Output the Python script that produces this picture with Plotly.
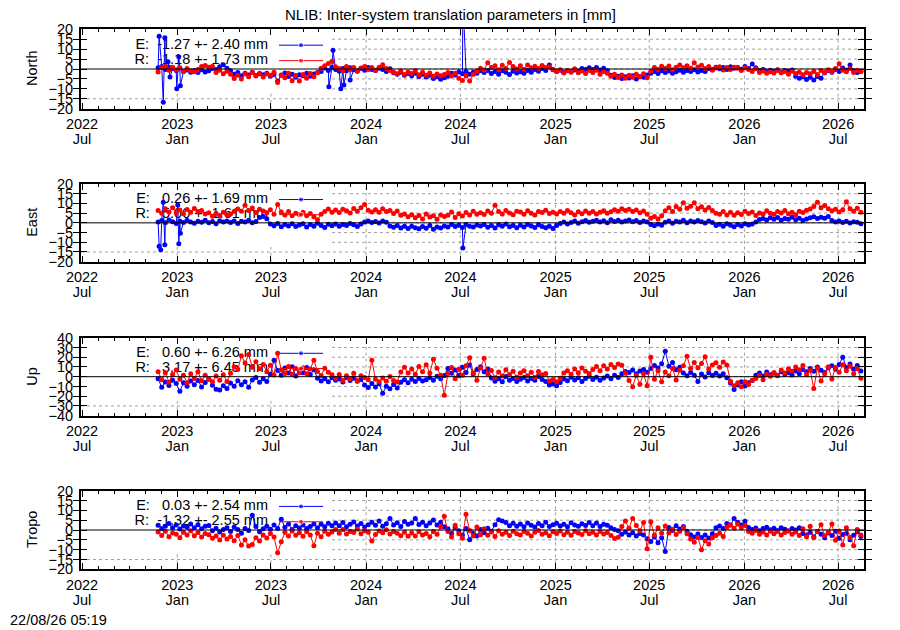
import pandas as pd
import plotly.graph_objects as go

# Weekly samples (mm), first sample 2022-11-25
first_day = "2022-11-25"
n_weeks = 195

north_e = [
    0.6, 1.2, -0.3, 0.9, 0.2, -0.8, 0.4, -1.3, -0.5, -1.6,
    -0.7, -1.8, -0.4, -1.5, -0.9, 0.3, -0.2, 1.1, 2.1, 0.4,
    -0.9, -2.6, -1.8, -3.4, -2.1, -3.0, -1.7, -3.3, -2.4, -2.9,
    -2.2, -3.6, -2.8, -6.0, -3.1, -2.0, -3.8, -2.6, -4.1, -2.9,
    -3.4, -2.1, -3.7, -2.5, -1.8, -1.2, 0.5, -0.7, 0.9, -0.3,
    -1.1, 0.2, -0.9, 0.6, -0.4, -1.0, 0.3, -0.6, 0.8, -0.2,
    -0.8, 0.4, -0.3, -1.2, 0.1, -1.9, -2.6, -1.7, -3.1, -2.3,
    -3.4, -2.2, -3.8, -2.7, -4.0, -3.1, -4.8, -3.9, -5.2, -4.4,
    -3.6, -2.1, -3.0, -1.5, -2.4, -1.2, -2.7, -1.6, -2.2, -0.9,
    -1.8, -0.7, -2.3, -1.2, -2.6, -0.9, -1.7, -2.8, -1.1, -2.0,
    -1.4, -2.2, -0.8, -1.6, -0.3, -1.1, 0.2, -0.7, 2.0, -0.4,
    -1.3, -0.6, -1.7, -0.9, -1.4, -0.5, -1.1, 0.2, -0.3, 0.6,
    -0.2, 0.8, -0.5, 0.4, -0.9, -3.2, -4.3, -3.6, -4.8, -3.9,
    -4.5, -3.4, -5.0, -3.8, -4.2, -3.0, -2.1, -1.3, -2.3, -0.9,
    -1.8, -1.0, -2.2, -1.4, -0.6, -1.7, -0.8, -1.3, -0.4, -1.5,
    -0.7, -1.2, 0.3, -0.2, 0.9, 0.1, 0.7, -0.3, 1.1, 0.4,
    0.8, -0.1, 1.2, 0.3, 2.5, 0.6, -0.9, -0.3, -1.4, -0.6,
    -1.2, -0.4, -1.6, -0.7, -1.3, -0.5, -3.6, -4.7, -3.9, -5.3,
    -4.2, -5.6, -3.8, -4.6, -1.9, -0.8, -1.6, -0.3, -1.2, 0.5,
    -0.6, 2.0, -0.9, -1.8, -1.1,
]
north_r = [
    -1.5, 0.8, 1.2, -0.6, 0.9, -0.4, 0.6, -1.2, 0.3, -0.9,
    -1.4, -0.3, 1.2, 1.8, 0.9, 1.4, -1.8, -0.6, -2.4, -1.1,
    -2.6, -4.8, -3.2, -5.1, -2.4, -3.9, -1.8, -3.5, -2.2, -4.0,
    -2.5, -3.1, -1.6, -6.8, -3.0, -4.4, -2.1, -5.9, -3.3, -6.0,
    -2.8, -4.6, -2.3, -3.9, -1.9, 0.4, 1.6, 2.8, 3.9, 1.1,
    0.3, -0.9, 1.2, -0.4, 0.8, -1.1, 0.5, 1.3, -0.2, 0.7,
    -0.6, 0.9, 2.1, 0.2, -0.8, -1.6, -2.4, -1.0, -2.8, -1.5,
    -2.3, -0.9, -2.9, -1.7, -3.2, -2.0, -3.6, -2.5, -3.4, -2.8,
    -1.8, -3.5, -2.2, -4.6, -5.8, -3.4, -6.1, -2.7, -1.0, 0.4,
    -0.5, 3.2, 0.8, 1.6, -0.4, 1.9, 0.3, 3.3, 1.2, 0.0,
    1.7, -0.2, 2.0, 0.6, 1.4, 0.2, 1.8, 0.7, 1.1, -0.3,
    -1.2, -0.4, -2.0, -0.8, -1.6, 0.1, -1.9, -1.0, -2.3, -0.7,
    -1.8, -0.6, -2.6, -1.3, -2.1, -3.7, -2.6, -4.3, -3.0, -4.6,
    -3.1, -4.1, -2.7, -3.9, -2.4, -4.4, -1.1, 0.8, -0.3, 1.4,
    0.2, 1.5, -0.4, 0.9, 2.0, 0.6, 1.7, 0.4, 3.2, 1.0,
    1.9, 0.3, 1.2, -0.6, 0.5, 1.1, -0.5, 0.7, -0.2, 0.9,
    0.4, -0.8, 0.6, -0.3, -1.2, 0.1, -1.8, -1.0, -2.2, -1.4,
    -2.0, -0.8, -1.9, -1.2, -2.6, -1.1, -2.3, -1.6, -2.9, -1.8,
    -2.4, -1.3, -2.8, -0.8, -1.9, -0.4, -1.5, 0.2, 2.6, -0.6,
    -1.4, 0.3, -1.8, -0.7, -1.2,
]
east_e = [
    0.4, 1.2, 0.1, 1.5, 0.6, -0.3, 0.9, 0.2, 1.3, 0.5,
    -0.2, 0.8, 0.3, 1.4, 0.0, 0.7, -0.4, 1.1, 0.5, 0.9,
    0.2, 1.0, -0.3, 0.8, 0.4, 1.3, 0.1, 0.7, 2.8, 3.3,
    2.1, -0.6, -1.5, -0.3, -2.0, -0.8, -1.6, -0.4, -1.9, -1.1,
    -0.5, -2.2, -0.9, -1.7, -0.2, -1.3, -2.4, -0.7, -1.5, -0.6,
    -1.8, -0.9, -1.4, -0.3, -1.0, -1.9, -0.6, 0.4, 0.9, 0.2,
    0.7, -0.1, 0.9, 0.3, -1.6, -2.3, -1.4, -2.6, -1.8, -2.9,
    -1.7, -2.5, -3.1, -1.9, -2.8, -1.4, -3.3, -2.2, -2.7, -1.6,
    -2.1, -0.8, -1.9, -1.2, -2.4, -0.9, -1.7, -2.2, -1.1, -1.6,
    -0.9, -2.3, -1.3, -2.6, -1.0, -1.8, -0.6, -2.0, -1.4, -2.5,
    -1.2, -2.1, -0.8, -1.6, -2.4, -1.0, -1.9, -2.5, -1.7, -2.9,
    -1.4, -0.3, 0.5, -0.6, 0.2, 0.9, -0.2, 0.6, 1.2, 0.3,
    0.8, 1.4, 0.4, 1.1, 0.0, 1.6, 0.7, 1.3, 0.5, 1.0,
    1.5, 0.6, 1.2, 0.2, 0.9, 0.4, -0.8, -1.5, -0.6, -1.2,
    0.3, 1.0, -0.2, 0.8, 0.4, 1.3, 0.1, 0.9, 0.5, 1.2,
    0.6, -0.1, 0.9, 0.2, -1.3, -0.7, -1.8, -0.5, -1.2, -2.0,
    -0.9, -1.6, -0.4, -1.1, -0.6, 0.4, 1.7, 2.3, 1.5, 2.6,
    1.9, 2.7, 1.4, 2.2, 1.8, 2.9, 1.6, 2.4, 1.2, 2.0,
    2.6, 3.1, 2.2, 2.9, 2.4, 3.3, 1.2, 0.4, 1.0, 0.2,
    0.8, -0.1, 0.6, 0.3, -0.4,
]
east_r = [
    6.3, 4.9, 7.2, 5.6, 7.8, 5.1, 6.6, 4.7, 6.9, 5.5,
    7.4, 5.8, 6.3, 4.6, 5.2, 3.4, 4.9, 3.8, 5.5, 4.1,
    4.6, 5.9, 7.1, 6.0, 9.0, 6.4, 7.6, 5.3, 7.0, 6.1,
    5.2, 6.8, 4.4, 9.4, 5.6, 4.1, 5.9, 3.7, 5.0, 4.3,
    5.4, 3.6, 4.8, 3.2, 1.6, 4.4, 5.8, 7.1, 5.5, 6.6,
    5.3, 7.0, 6.2, 5.1, 7.4, 6.0, 7.8, 9.4, 6.5, 5.6,
    6.8, 5.4, 7.2, 5.9, 6.4, 4.8, 6.1, 3.9, 4.6, 3.1,
    4.2, 2.6, 3.8, 2.0, 4.5, 3.0, 3.6, 1.9, 4.1, 3.3,
    3.9, 5.6, 2.8, 4.7, 3.5, 5.3, 4.1, 6.0, 4.4, 5.2,
    4.3, 6.1, 5.0, 9.0, 5.8, 4.6, 6.4, 5.1, 4.2, 6.0,
    5.6, 4.4, 6.2, 5.0, 4.1, 5.9, 5.3, 6.5, 4.8, 5.5,
    4.5, 5.8, 4.9, 6.3, 5.2, 4.0, 5.7, 4.7, 6.1, 5.0,
    5.9, 4.6, 5.4, 6.2, 4.9, 5.7, 6.8, 6.0, 7.3, 6.4,
    7.0, 5.9, 6.6, 5.2, 6.1, 4.4, 2.4, 3.3, 2.0, 3.6,
    6.2, 7.8, 5.9, 8.4, 7.0, 10.4, 7.5, 8.6, 10.3, 7.2,
    8.3, 6.6, 7.9, 6.3, 5.0, 4.4, 5.8, 4.1, 5.5, 3.9,
    5.2, 4.3, 6.0, 4.8, 5.6, 3.8, 5.1, 4.6, 6.2, 5.0,
    4.4, 5.9, 5.1, 6.3, 4.7, 5.5, 4.2, 6.0, 5.3, 6.5,
    7.1, 8.4, 10.6, 7.8, 8.9, 7.3, 6.2, 7.0, 5.6, 6.8,
    10.9, 7.2, 6.0, 7.5, 5.4,
]
up_e = [
    -2.0, -10.8, -5.4, -8.9, -3.6, -7.1, -15.0, -6.3, -9.8, -4.5,
    -8.2, -3.9, -10.5, -6.0, -2.4, -8.7, -12.9, -13.6, -9.4, -12.2,
    -6.5, -9.9, -4.2, -8.3, -5.1, -10.7, -3.4, -0.8, -5.6, -2.1,
    -4.8, 2.5, 17.0, 6.3, 1.4, 8.9, 3.7, 10.2, 0.6, 6.8,
    4.1, 9.5, 2.2, 7.0, -1.6, -4.3, -2.0, -5.2, -1.1, -3.7,
    -2.4, -5.5, -0.9, -3.8, -1.7, -4.6, -2.9, -8.4, -11.2, -6.9,
    -10.6, -7.3, -17.0, -9.8, -12.4, -8.1, -11.5, -5.6, -3.2, -6.1,
    -2.7, -5.0, -1.9, -4.4, -3.0, -0.8, -3.6, 0.5, -2.2, 1.3,
    8.5, 3.6, 6.9, 1.2, 9.7, 4.4, 12.1, 2.8, 7.5, 10.3,
    5.2, 8.0, -1.4, -4.6, -2.0, -5.1, 0.3, -3.7, -1.8, -4.9,
    -2.5, -0.7, -4.3, -1.9, -3.6, 0.2, -2.8, -5.0, -8.6, -7.4,
    -9.2, -6.0, -2.4, -4.1, -0.6, -3.3, -1.2, -5.0, -1.9, 0.4,
    -2.8, -0.5, -3.6, -1.4, 0.8, -2.2, 1.5, -0.9, 3.1, 5.4,
    4.2, 6.9, 3.0, 5.8, 7.4, 4.6, 8.5, 11.6, 9.0, 13.2,
    26.0, 10.8, 14.5, 7.2, 9.6, 3.8, 0.9, 4.4, 1.6, -5.0,
    2.7, -0.4, 4.1, 1.3, 3.5, 0.6, 2.9, -1.2, -6.5, -13.0,
    -8.4, -5.2, -9.6, -6.1, -3.8, 1.6, 3.9, 0.8, 4.7, 2.1,
    3.6, 0.9, 5.2, 2.4, 4.0, 1.7, 5.8, 3.1, 7.5, 5.0,
    8.3, 5.6, 9.9, 6.7, 4.2, 8.8, 11.3, 7.6, 12.5, 20.0,
    9.4, 13.1, 7.8, 11.6, 5.9,
]
up_r = [
    5.0, -3.2, 4.1, -5.6, 2.3, 6.8, -2.5, 1.4, -6.2, 3.0,
    -1.8, 5.2, -4.1, 1.6, -2.7, -5.3, 0.8, -3.6, 1.9, -4.8,
    3.5, 10.2, 7.4, 21.5, 14.0, 22.8, 9.6, 15.3, 8.1, 12.6,
    5.2, 11.8, 1.7, 24.0, 6.9, 3.4, 10.5, 2.6, 8.3, 4.0,
    9.2, 3.1, 7.8, 17.0, 5.4, 1.2, 8.7, 4.5, 2.0, -1.5,
    2.3, -3.8, 0.9, -2.4, 3.6, -4.2, 1.1, -0.7, -3.0, 16.8,
    -2.6, -5.1, -1.4, -4.6, 0.2, -3.9, -5.5, 4.8, 9.6, 3.7,
    7.9, 2.5, 10.4, 5.1, 12.2, 3.8, 18.0, 8.6, 1.4, -19.0,
    3.2, 9.4, -2.1, 7.6, 1.5, 11.2, 19.5, 4.0, -3.6, 8.8,
    19.0, 2.7, 6.4, -1.2, 4.9, 0.6, 7.1, 2.2, 5.5, -0.5,
    3.8, 6.0, 1.1, 4.6, -0.8, 5.3, 2.0, 3.4, -4.5, -2.8,
    -5.2, -1.6, 3.9, 6.2, 2.5, 7.8, 4.1, 8.9, 5.6, 3.3,
    7.5, 10.4, 6.2, 11.3, 8.0, 12.6, 9.4, 13.1, 11.8, 3.5,
    -4.0, -10.2, 1.5, -7.8, 3.1, -9.4, 20.0, -2.6, 6.2, -5.1,
    4.8, 0.9, 8.3, -3.4, 6.5, 11.2, 21.0, 8.4, 14.6, 9.1,
    13.5, 20.4, 7.8, 11.9, 14.3, 9.7, 15.2, 12.0, -4.6, -9.3,
    -6.1, -10.4, -5.2, -8.0, -3.6, -1.8, 1.2, -3.1, 2.6, 0.4,
    4.3, 1.5, 6.8, 3.9, 8.2, 5.6, 9.9, 7.1, 11.4, 2.0,
    6.4, -12.0, 8.8, -4.5, 3.0, 10.1, -2.3, 9.5, 4.6, 12.2,
    6.0, 10.8, 2.9, 8.4, -1.6,
]
tropo_e = [
    2.4, 0.8, 1.9, 3.3, 1.1, 2.6, 0.5, 2.0, 1.4, 3.0,
    1.2, 2.7, 0.6, 1.9, 2.3, -0.4, 0.9, -1.0, 0.3, 1.2,
    -0.8, 1.5, 0.2, -1.6, 0.7, -0.3, 7.5, 1.8, -0.9, 0.6,
    1.9, 0.4, 2.6, 0.8, 5.5, 1.4, 3.0, 0.2, 2.2, 1.0,
    2.5, 0.7, 1.8, 3.1, 1.2, 2.9, 1.6, 3.4, 2.1, 3.6,
    2.2, 3.8, 1.7, 2.9, 4.1, 2.0, 3.3, 1.5, 2.7, 3.9,
    2.4, 4.6, 1.9, 3.2, 5.8, 2.6, 3.7, 1.8, 4.3, 2.9,
    3.5, 5.9, 2.8, 4.0, 2.2, 3.6, 5.1, 2.5, 3.9, 1.7,
    0.6, -1.8, 1.1, -0.4, -2.5, 0.8, -4.9, -1.6, -3.1, 0.3,
    -1.4, 0.9, -0.6, 2.7, 5.2, 4.6, 3.8, 2.1, 3.4, 1.9,
    3.0, 1.7, 3.6, 2.4, 1.5, 3.3, 2.2, 3.9, 1.8, 2.7,
    3.4, 2.0, 2.9, 1.6, 3.7, 2.5, 1.9, 3.2, 2.3, 3.8,
    2.1, 3.5, 1.8, 2.9, 2.4, 1.2, 0.3, -0.4, -2.2, -1.0,
    -2.6, -1.4, -3.1, -1.8, -2.5, -4.4, -5.8, -3.6, -6.5, -4.0,
    -11.0, 1.3, -0.2, 2.2, 0.5, 1.8, -0.6, -2.4, -3.5, -2.0,
    -3.8, -2.6, -4.1, -1.9, 1.2, 2.0, 0.8, 3.3, 2.6, 5.8,
    3.9, 2.5, 4.4, 1.3, 0.2, 1.0, -0.4, 0.8, 1.4, 0.1,
    0.9, -0.3, 1.2, 0.4, -0.5, 0.7, 0.0, 1.1, -1.8, -2.6,
    -1.2, -3.4, -0.8, -2.1, -3.9, -1.5, -2.8, -0.6, -4.2, -2.3,
    -1.6, -4.9, -2.7, -0.9, -3.3,
]
tropo_r = [
    -1.0, -2.8, -0.6, -3.4, -1.5, -2.2, -3.9, -1.1, -2.6, -0.4,
    -2.9, -1.3, -3.5, -1.8, -2.4, -4.2, -3.0, -5.1, -2.7, -4.6,
    -3.3, -5.5, -2.8, -7.6, -5.0, -8.2, -7.4, -3.9, -5.6, -2.5,
    -4.1, -1.8, -3.6, -11.6, -6.0, -1.2, -3.0, -0.5, -2.7, -1.4,
    -3.2, -0.9, -2.5, -8.0, -1.7, -3.4, -0.6, -2.1, -1.0, 0.2,
    -1.6, 0.3, -2.0, -0.7, -1.3, 0.5, -1.9, -0.4, -1.2, -5.6,
    -2.3, -0.5, -1.4, 0.1, -2.0, -0.8, -1.6, -2.9, -1.1, -3.2,
    -1.5, -3.0, -0.9, -2.6, -1.8, -3.4, -0.7, -2.2, 1.6, 7.0,
    -0.8, -3.6, 2.4, -1.9, -4.2, 8.0, -0.3, -3.0, 1.5, -2.4,
    0.6, -2.7, -1.0, -3.3, -0.4, -2.1, -1.2, -2.8, -0.6, -1.9,
    -2.5, -0.8, -1.7, -3.0, -1.1, -0.2, -2.2, -1.4, -2.9, -0.9,
    -1.8, -0.5, -2.4, -1.2, -2.7, -0.8, -1.5, -2.3, -0.4, -1.9,
    -1.1, -2.6, -0.7, -2.0, -1.3, -2.8, -4.3, -3.7, 1.8, 4.6,
    0.9, 5.9, 2.3, -0.4, 3.8, -9.5, 4.2, -2.6, 1.1, -1.7,
    2.0, -1.5, 0.4, -2.3, -0.6, 1.3, -1.9, -4.6, -6.2, -3.8,
    -10.0, -5.5, -7.1, -3.9, -2.8, -1.6, -3.3, 1.4, 2.6, 0.9,
    2.9, 1.2, 2.3, -0.8, -1.6, -0.3, -2.2, -1.0, -2.5, -0.6,
    -1.9, -0.7, -2.6, -1.3, -0.4, -2.1, -1.0, -2.8, 0.6, -3.4,
    1.9, -4.0, -0.8, 2.7, -2.9, -1.2, 3.1, -5.2, -0.5, -7.6,
    1.2, -3.8, -8.0, 0.3, -2.6,
]

# isolated outliers of the E solution (daily points between the weekly samples)
north_e_out_dates = ["2022-11-27", "2022-12-05", "2022-12-08", "2022-12-14", "2022-12-18",
                     "2022-12-31", "2023-01-04", "2023-01-07", "2023-10-21", "2023-10-29",
                     "2023-11-13", "2023-11-19", "2023-12-01", "2024-07-06"]
north_e_out = [16.5, -16.8, 15.7, 3.7, -4.0, -10.0, 6.2, -8.5, -9.0, 9.5, -10.0, -8.0, -5.5, 35.0]
east_e_out_dates = ["2022-11-27", "2022-11-30", "2022-12-05", "2022-12-08",
                    "2023-01-02", "2023-01-04", "2023-01-07", "2024-07-06"]
east_e_out = [-12.0, -13.8, 10.6, -11.3, 9.2, -10.8, -5.3, -13.0]

panel_names = ["North", "East", "Up", "Tropo"]
panel_limits = [20, 20, 40, 20]
panel_steps = [5, 5, 10, 5]
e_labels = ["E:  -1.27 +- 2.40 mm", "E:   0.26 +- 1.69 mm",
            "E:   0.60 +- 6.26 mm", "E:   0.03 +- 2.54 mm"]
r_labels = ["R:  -1.18 +- 1.73 mm", "R:   5.00 +- 1.61 mm",
            "R:   3.17 +- 6.45 mm", "R:  -1.32 +- 2.55 mm"]
title = "NLIB: Inter-system translation parameters in [mm]"
stamp = "22/08/26 05:19"

x_start = pd.Timestamp("2022-06-29")
x_end = pd.Timestamp("2026-08-20")
grid_dates = pd.date_range("2023-01-01", "2026-07-01", freq="6MS")

W, H = 900, 630
OFF = 8  # the page puts the figure 8px in from the window corner


def px(x):
    return (x - OFF) / W


def py(y):
    return 1 - (y - OFF) / H


x_dom = [px(81), px(864)]
panel_px = [(29.3, 108.7), (184, 261.7), (337.7, 415.7), (490.7, 569.3)]
y_doms = [[py(b), py(t)] for t, b in panel_px]
KEY_W, KEY_H = 0.3206, 0.19  # area gnuplot keeps free of grid lines
FONT = "Liberation Sans, Arial, sans-serif"
BLUE = "rgb(0,0,255)"
RED = "rgb(255,0,0)"
GRID = dict(color="#a0a0a0", width=1, dash="dot")

dates = pd.date_range(first_day, periods=n_weeks, freq="7D")


def make_series(vals, out_dates=None, out_vals=None):
    s = pd.Series(vals, index=dates)
    if out_dates:
        s = pd.concat([s, pd.Series(out_vals, index=pd.to_datetime(out_dates))])
        s = s.sort_index(kind="stable")
    return s


def dom_x(f):
    return x_start + (x_end - x_start) * f


series_e = [make_series(north_e, north_e_out_dates, north_e_out),
            make_series(east_e, east_e_out_dates, east_e_out),
            make_series(up_e), make_series(tropo_e)]
series_r = [make_series(north_r), make_series(east_r),
            make_series(up_r), make_series(tropo_r)]

fig = go.Figure()
shapes = []
annotations = []
tick_font = dict(family=FONT, size=14.5, color="black")

for k in range(4):
    n = "" if k == 0 else str(k + 1)
    xa, ya = "x" + n, "y" + n
    lim, step = panel_limits[k], panel_steps[k]

    def dom_y(f):
        return -lim + 2 * lim * f

    # key text first so that the data is drawn over it (like gnuplot)
    fig.add_trace(go.Scatter(
        x=[dom_x(0.2388), dom_x(0.2388)], y=[dom_y(0.80), dom_y(0.605)],
        mode="text", text=[e_labels[k].replace(" ", "\u00a0"), r_labels[k].replace(" ", "\u00a0")],
        textposition="middle left", textfont=tick_font,
        cliponaxis=False, hoverinfo="skip", showlegend=False, xaxis=xa, yaxis=ya))

    for s, col, fy in [(series_e[k], BLUE, 0.80), (series_r[k], RED, 0.605)]:
        fig.add_trace(go.Scatter(
            x=s.index, y=s.values, mode="lines+markers",
            line=dict(color=col, width=1), marker=dict(color=col, size=5),
            showlegend=False, xaxis=xa, yaxis=ya))
        # key sample
        fig.add_trace(go.Scatter(
            x=[dom_x(0.2529), dom_x(0.281), dom_x(0.3091)], y=[dom_y(fy)] * 3,
            mode="lines+markers", line=dict(color=col, width=1),
            marker=dict(color=col, size=[0, 5, 0]),
            hoverinfo="skip", showlegend=False, xaxis=xa, yaxis=ya))

    common = dict(showline=True, linecolor="black", linewidth=2, mirror="allticks",
                  ticks="inside", ticklen=6, tickwidth=1, tickcolor="black",
                  showgrid=False, zeroline=False, tickfont=tick_font, automargin=False)
    month_ax = "xaxis" + str(k + 5)
    fig.update_layout({
        "xaxis" + n: dict(common, domain=x_dom, anchor=ya, type="date",
                          range=[x_start, x_end], tick0="2022-07-01", dtick="M6",
                          tickformat="%Y", ticklabelstandoff=1,
                          minor=dict(dtick="M1", ticks="inside", ticklen=3,
                                     tickcolor="black", showgrid=False)),
        # second label row (month names) on an overlaid axis
        month_ax: dict(overlaying=xa, anchor=ya, side="bottom", type="date",
                       range=[x_start, x_end], tick0="2022-07-01", dtick="M6",
                       tickformat="%b", ticks="", showline=False, showgrid=False,
                       zeroline=False, tickfont=tick_font, ticklabelstandoff=20,
                       automargin=False),
        "yaxis" + n: dict(common, domain=y_doms[k], anchor=xa, range=[-lim, lim],
                          tick0=0, dtick=step, ticklabelstandoff=3),
    })
    fig.add_trace(go.Scatter(x=[x_start], y=[0], xaxis="x" + str(k + 5), yaxis=ya,
                             mode="markers", marker=dict(opacity=0),
                             hoverinfo="skip", showlegend=False))

    # dotted grid, left out where gnuplot put its key box
    for v in range(-lim + step, lim, step):
        f = (v + lim) / (2 * lim)
        shapes.append(dict(type="line", xref=xa + " domain", yref=ya,
                           x0=KEY_W if f >= KEY_H else 0, x1=1, y0=v, y1=v,
                           line=GRID, layer="below"))
    for d in grid_dates:
        f = (d - x_start) / (x_end - x_start)
        shapes.append(dict(type="line", xref=xa, yref=ya + " domain",
                           x0=d, x1=d, y0=0, y1=KEY_H if f < KEY_W else 1,
                           line=GRID, layer="below"))
    shapes.append(dict(type="line", xref=xa + " domain", yref=ya, x0=0, x1=1, y0=0, y1=0,
                       line=dict(color="black", width=1), layer="above"))

    annotations.append(dict(text=panel_names[k], xref="paper", yref="paper",
                            x=px(32), y=sum(y_doms[k]) / 2, textangle=-90,
                            showarrow=False, xanchor="center", yanchor="middle",
                            font=tick_font))

annotations.append(dict(text=title, xref="paper", yref="paper", x=px(450), y=py(15),
                        showarrow=False, xanchor="center", yanchor="middle",
                        font=dict(family=FONT, size=15, color="black")))
annotations.append(dict(text=stamp, xref="paper", yref="paper", x=px(8), y=py(620),
                        showarrow=False, xanchor="left", yanchor="middle",
                        font=tick_font))

fig.update_layout(width=W, height=H, margin=dict(l=0, r=0, t=0, b=0),
                  paper_bgcolor="white", plot_bgcolor="white", showlegend=False,
                  shapes=shapes, annotations=annotations, hovermode=False)

fig.write_html("out.html")
